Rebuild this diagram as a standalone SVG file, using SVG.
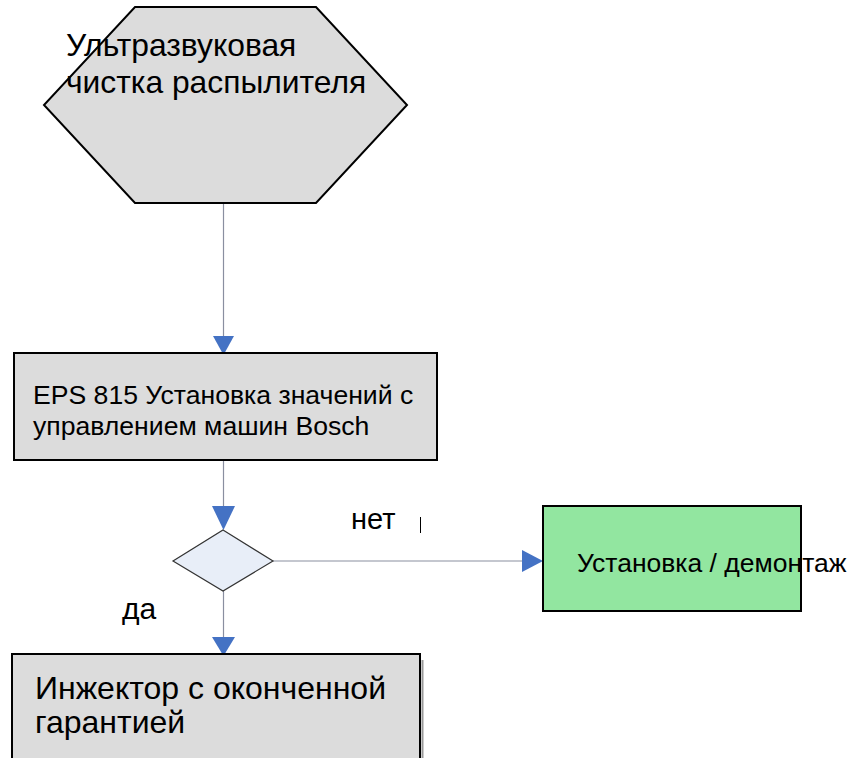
<svg xmlns="http://www.w3.org/2000/svg" width="851" height="758" viewBox="0 0 851 758">
<style>
.t{font-family:"Liberation Sans",Arial,sans-serif;fill:#000}
.n{stroke:#000;stroke-width:2}
.c{stroke:#8a8fa0;stroke-width:1.2;fill:none}
.ah{fill:#4472c4}
</style>
<rect width="851" height="758" fill="#fff"/>
<g id="connectors">
<line class="c" x1="223.5" y1="203" x2="223.5" y2="336"/>
<polygon class="ah" points="213,336 234,336 223.5,355"/>
<line class="c" x1="223.5" y1="460" x2="223.5" y2="506"/>
<polygon class="ah" points="212,506 235,506 223.5,530"/>
<line class="c" x1="273" y1="561" x2="523" y2="561"/>
<polygon class="ah" points="522,550 522,572 543,561"/>
<line class="c" x1="223.5" y1="591" x2="223.5" y2="637"/>
<polygon class="ah" points="212,637 235,637 223.5,656"/>
<line x1="420.5" y1="517" x2="420.5" y2="533" stroke="#000" stroke-width="1"/>
</g>
<g id="n1">
<polygon class="n" fill="#dcdcdc" points="135,7 316,7 407,105 316,203 135,203 44,105"/>
<text class="t" font-size="31.8" x="66" y="56">Ультразвуковая</text>
<text class="t" font-size="31.8" x="66" y="93">чистка распылителя</text>
</g>
<g id="n2">
<rect class="n" fill="#dcdcdc" x="14" y="353" width="423" height="107"/>
<text class="t" font-size="26.6" x="33" y="404">EPS 815 Установка значений с</text>
<text class="t" font-size="26.6" x="33" y="435">управлением машин Bosch</text>
</g>
<g id="n3">
<polygon fill="#e8eef8" stroke="#333" stroke-width="1.2" points="223,530 273,561 223,591 173,561"/>
</g>
<g id="n4">
<rect class="n" fill="#92e6a0" x="543" y="506" width="258" height="105"/>
<text class="t" font-size="26.5" x="577" y="572">Установка / демонтаж</text>
</g>
<g id="n5">
<line x1="422.5" y1="660" x2="422.5" y2="758" stroke="#999" stroke-width="2"/>
<rect class="n" fill="#dcdcdc" x="12" y="654" width="408" height="110"/>
<text class="t" font-size="32" x="35" y="699">Инжектор с оконченной</text>
<text class="t" font-size="32" x="35" y="733">гарантией</text>
</g>
<g id="labels">
<text class="t" font-size="29" x="351" y="529">нет</text>
<text class="t" font-size="30" x="122" y="619">да</text>
</g>
</svg>
